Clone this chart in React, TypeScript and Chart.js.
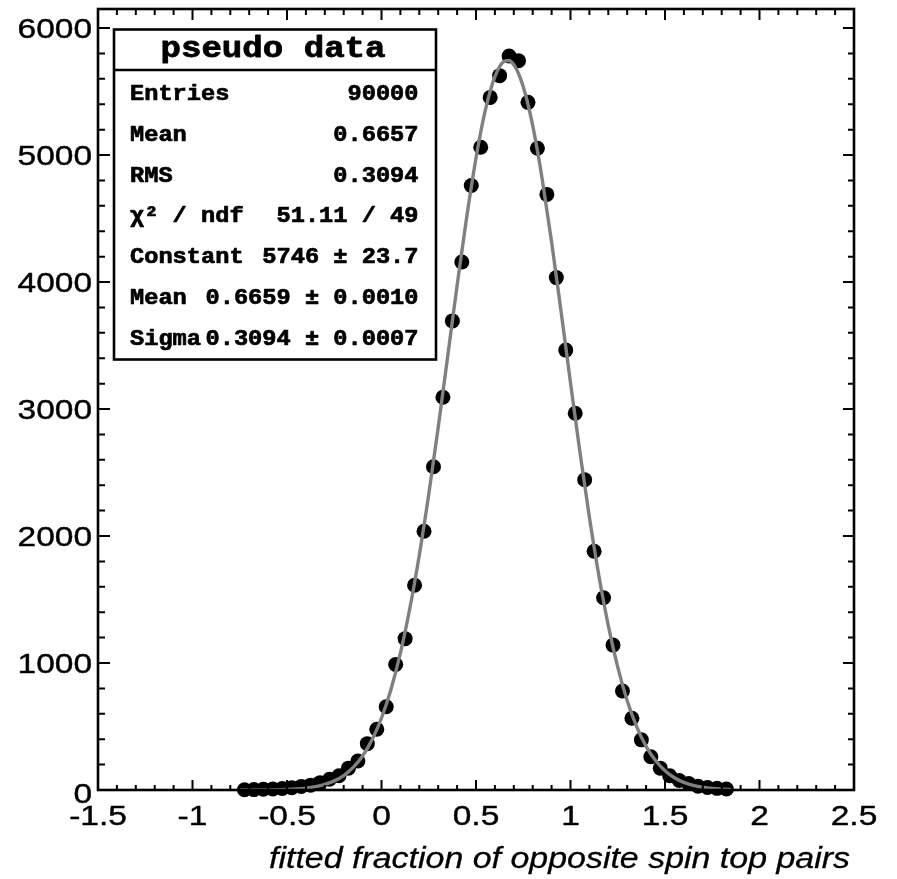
import React, { useEffect, useRef } from "react";
import { Chart, registerables } from "chart.js";

Chart.register(...registerables);

// ---- data ----
const binCenters = [
  -0.725, -0.675, -0.625, -0.575, -0.525, -0.475, -0.425, -0.375, -0.325, -0.275,
  -0.225, -0.175, -0.125, -0.075, -0.025, 0.025, 0.075, 0.125, 0.175, 0.225,
  0.275, 0.325, 0.375, 0.425, 0.475, 0.525, 0.575, 0.625, 0.675, 0.725,
  0.775, 0.825, 0.875, 0.925, 0.975, 1.025, 1.075, 1.125, 1.175, 1.225,
  1.275, 1.325, 1.375, 1.425, 1.475, 1.525, 1.575, 1.625, 1.675, 1.725,
  1.775, 1.825,
];
const binCounts = [
  2, 3, 6, 8, 12, 18, 28, 38, 58, 85,
  112, 172, 228, 365, 478, 655, 988, 1192, 1612, 2037,
  2545, 3093, 3694, 4158, 4760, 5061, 5454, 5625, 5780, 5742,
  5415, 5053, 4690, 4035, 3464, 2967, 2443, 1880, 1514, 1141,
  780, 565, 395, 262, 172, 112, 75, 52, 30, 20,
  13, 8,
];

const fitX = [
  -0.75, -0.7, -0.65, -0.6, -0.55, -0.5, -0.45, -0.4, -0.35, -0.3,
  -0.25, -0.2, -0.15, -0.1, -0.05, 0.0, 0.05, 0.1, 0.15, 0.2,
  0.25, 0.3, 0.35, 0.4, 0.45, 0.5, 0.525, 0.55, 0.575, 0.6,
  0.625, 0.65, 0.675, 0.7, 0.725, 0.75, 0.775, 0.8, 0.825, 0.85,
  0.9, 0.95, 1.0, 1.05, 1.1, 1.15, 1.2, 1.25, 1.3, 1.35,
  1.4, 1.45, 1.5, 1.55, 1.6, 1.65, 1.7, 1.75, 1.8, 1.85,
];
const fitY = [
  0.16, 0.34, 0.68, 1.3, 2.6, 4.7, 8.6, 15, 26, 44,
  72, 114, 178, 268, 395, 567, 792, 1078, 1431, 1849,
  2328, 2855, 3412, 3972, 4504, 4977, 5180, 5357, 5503, 5617,
  5696, 5738, 5744, 5711, 5642, 5537, 5400, 5231, 5035, 4814,
  4316, 3769, 3207, 2659, 2147, 1689, 1295, 967, 703, 499,
  344, 232, 152, 97, 60, 37, 22, 12, 7, 4,
];

const xMajorTicks = [-1.5, -1, -0.5, 0, 0.5, 1, 1.5, 2, 2.5];
const xTickLabels = ["-1.5", "-1", "-0.5", "0", "0.5", "1", "1.5", "2", "2.5"];
const yMajorTicks = [0, 1000, 2000, 3000, 4000, 5000, 6000];
const yTickLabels = ["0", "1000", "2000", "3000", "4000", "5000", "6000"];
const xMinorStep = 0.1;
const yMinorStep = 200;

const xTitle = "fitted fraction of opposite spin top pairs";
const statsTitle = "pseudo data";
const statsLabels = ["Entries", "Mean", "RMS", "\u03C7\u00B2 / ndf", "Constant", "Mean", "Sigma"];
const statsValues = [
  "90000",
  "0.6657",
  "0.3094",
  "51.11 / 49",
  "5746 \u00B1 23.7",
  "0.6659 \u00B1 0.0010",
  "0.3094 \u00B1 0.0007",
];

const SANS = "'Liberation Sans', Arial, Helvetica, sans-serif";
const MONO = "'Liberation Mono', 'Courier New', monospace";

function drawStretched(
  ctx: CanvasRenderingContext2D,
  text: string,
  x: number,
  y: number,
  sx: number,
  align: CanvasTextAlign,
  strokeW = 0
) {
  ctx.save();
  ctx.translate(x, y);
  ctx.scale(sx, 1);
  ctx.textAlign = align;
  ctx.textBaseline = "alphabetic";
  ctx.fillText(text, 0, 0);
  if (strokeW > 0) {
    ctx.lineWidth = strokeW;
    ctx.strokeStyle = ctx.fillStyle as string;
    ctx.lineJoin = "round";
    ctx.strokeText(text, 0, 0);
  }
  ctx.restore();
}

const rootStylePlugin = {
  id: "rootStyle",
  beforeDraw(chart: any) {
    const ctx = chart.ctx as CanvasRenderingContext2D;
    ctx.save();
    ctx.fillStyle = "#ffffff";
    ctx.fillRect(0, 0, chart.width, chart.height);
    ctx.restore();
  },
  afterDatasetsDraw(chart: any) {
    const ctx = chart.ctx as CanvasRenderingContext2D;
    const area = chart.chartArea;
    const xs = chart.scales.x;
    const ys = chart.scales.y;
    ctx.save();

    // ticks
    ctx.strokeStyle = "#000";
    ctx.lineWidth = 2;
    ctx.beginPath();
    const xmin = xs.min;
    const xmax = xs.max;
    const nx = Math.round((xmax - xmin) / xMinorStep);
    for (let i = 0; i <= nx; i++) {
      const v = xmin + i * xMinorStep;
      const px = xs.getPixelForValue(v);
      const major = i % 5 === 0;
      const lb = major ? 10 : 5;
      const lt = major ? 11 : 6;
      ctx.moveTo(px, area.bottom);
      ctx.lineTo(px, area.bottom - lb);
      ctx.moveTo(px, area.top);
      ctx.lineTo(px, area.top + lt);
    }
    for (let v = 0; v <= ys.max + 1e-6; v += yMinorStep) {
      const py = ys.getPixelForValue(v);
      const major = Math.abs(v % 1000) < 1e-6;
      const ll = major ? 12 : 7;
      const lr = major ? 11 : 6;
      ctx.moveTo(area.left, py);
      ctx.lineTo(area.left + ll, py);
      ctx.moveTo(area.right, py);
      ctx.lineTo(area.right - lr, py);
    }
    ctx.stroke();

    // frame
    ctx.lineWidth = 2.6;
    ctx.strokeRect(area.left, area.top, area.right - area.left, area.bottom - area.top);

    // tick labels
    ctx.fillStyle = "#000";
    ctx.font = `27px ${SANS}`;
    xMajorTicks.forEach((v, i) => {
      const px = xs.getPixelForValue(v);
      drawStretched(ctx, xTickLabels[i], px, 825, 1.24, "center", 0.4);
    });
    yMajorTicks.forEach((v, i) => {
      const py = ys.getPixelForValue(v);
      drawStretched(ctx, yTickLabels[i], 92, py + (v === 0 ? 13 : 9.5), 1.24, "right", 0.4);
    });

    // axis title
    ctx.font = `italic 29px ${SANS}`;
    const tw = ctx.measureText(xTitle).width;
    const targetW = 850 - 269;
    drawStretched(ctx, xTitle, 850, 868, targetW / tw, "right", 0.3);

    // stats box
    const bx = 114, by = 29.5, bw = 322, bh = 330;
    ctx.fillStyle = "#fff";
    ctx.fillRect(bx, by, bw, bh);
    ctx.lineWidth = 2.6;
    ctx.strokeStyle = "#000";
    ctx.strokeRect(bx, by, bw, bh);
    ctx.beginPath();
    ctx.moveTo(bx, 70);
    ctx.lineTo(bx + bw, 70);
    ctx.stroke();

    ctx.fillStyle = "#000";
    ctx.font = `bold 29px ${MONO}`;
    const titleW = ctx.measureText(statsTitle).width;
    drawStretched(ctx, statsTitle, bx + bw / 2 - 2, 57, 225 / titleW, "center", 0.8);

    ctx.font = `bold 22px ${MONO}`;
    const charW = ctx.measureText("M").width;
    const sxs = 14.2 / charW;
    const baselines = [99.5, 140.5, 181.5, 222, 263, 304, 345];
    statsLabels.forEach((lab, i) => {
      drawStretched(ctx, lab, 130, baselines[i], sxs, "left", 0.7);
      drawStretched(ctx, statsValues[i], 418.5, baselines[i], sxs, "right", 0.7);
    });

    ctx.restore();
  },
};

export default function App() {
  const canvasRef = useRef<HTMLCanvasElement | null>(null);

  useEffect(() => {
    if (!canvasRef.current) return;
    const chart = new Chart(canvasRef.current, {
      type: "scatter",
      data: {
        datasets: [
          {
            label: "fit",
            data: fitX.map((x, i) => ({ x, y: fitY[i] })),
            showLine: true,
            borderColor: "#808080",
            borderWidth: 3.4,
            pointRadius: 0,
            pointHoverRadius: 0,
            cubicInterpolationMode: "monotone",
            fill: false,
            order: 1,
          } as any,
          {
            label: "pseudo data",
            data: binCenters.map((x, i) => ({ x, y: binCounts[i] })),
            showLine: false,
            pointRadius: 7.5,
            pointHoverRadius: 7.5,
            pointBackgroundColor: "#000",
            pointBorderWidth: 0,
            borderColor: "#000",
            clip: false,
            order: 2,
          } as any,
        ],
      },
      options: {
        responsive: false,
        animation: false,
        devicePixelRatio: 1,
        layout: { padding: { left: 98, right: 43, top: 9, bottom: 89 } },
        plugins: {
          legend: { display: false },
          tooltip: { enabled: false },
        },
        events: [],
        scales: {
          x: { type: "linear", min: -1.5, max: 2.5, display: false },
          y: { type: "linear", min: 0, max: 6150, display: false },
        },
      },
      plugins: [rootStylePlugin],
    });
    return () => chart.destroy();
  }, []);

  return (
    <div style={{ position: "absolute", left: 0, top: 0, width: 897, height: 879, background: "#fff" }}>
      <canvas ref={canvasRef} width={897} height={879} style={{ display: "block" }} />
    </div>
  );
}
